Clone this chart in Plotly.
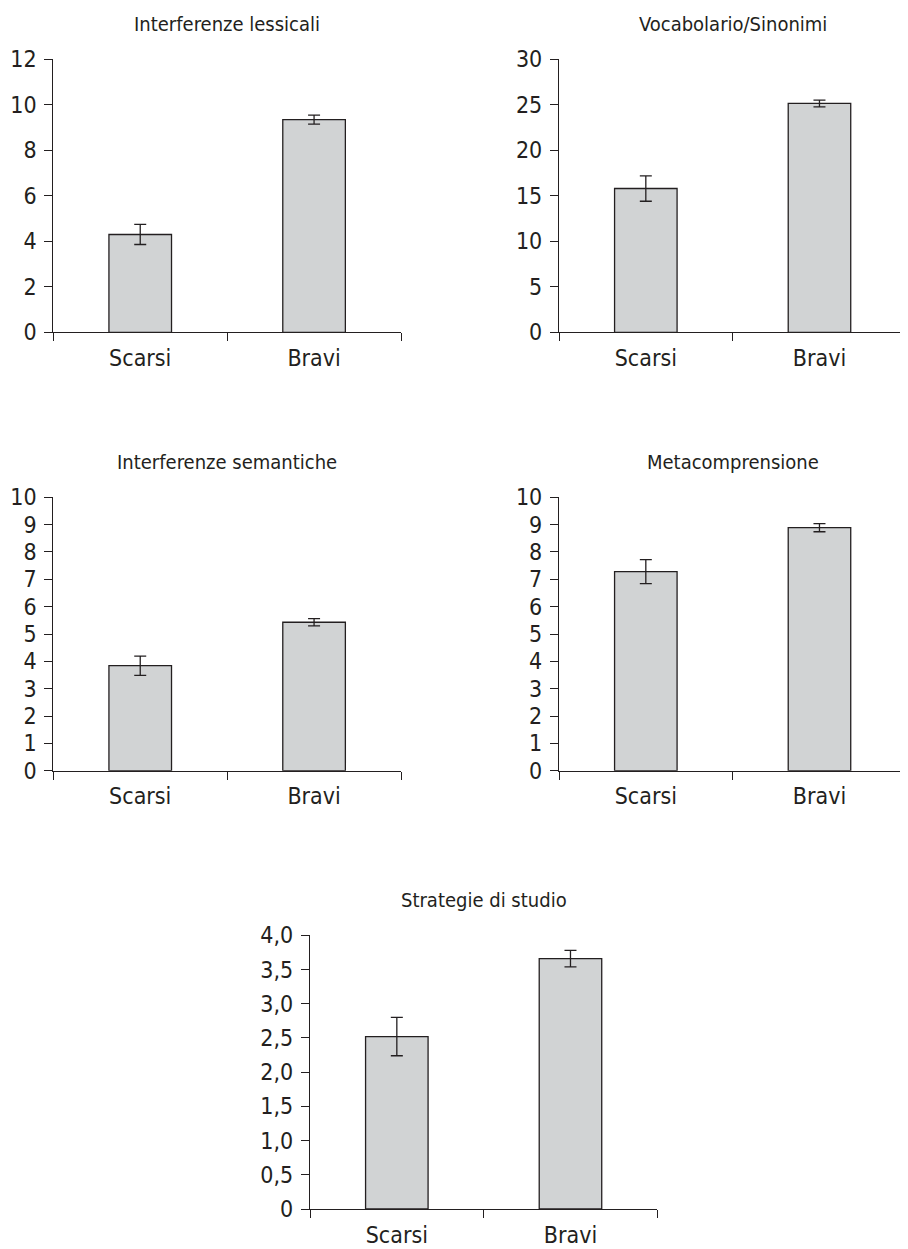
import plotly.graph_objects as go

categories = ["Scarsi", "Bravi"]

titles = ["Interferenze lessicali", "Vocabolario/Sinonimi", "Interferenze semantiche",
          "Metacomprensione", "Strategie di studio"]

lessicali = [4.30, 9.35]
lessicali_err = [0.44, 0.20]
vocabolario = [15.8, 25.15]
vocabolario_err = [1.40, 0.37]
semantiche = [3.84, 5.43]
semantiche_err = [0.35, 0.13]
metacomp = [7.28, 8.89]
metacomp_err = [0.44, 0.15]
strategie = [2.52, 3.66]
strategie_err = [0.28, 0.12]

ticks_lessicali = [0, 2, 4, 6, 8, 10, 12]
ticks_vocabolario = [0, 5, 10, 15, 20, 25, 30]
ticks_semantiche = [0, 1, 2, 3, 4, 5, 6, 7, 8, 9, 10]
ticks_metacomp = [0, 1, 2, 3, 4, 5, 6, 7, 8, 9, 10]
ticks_strategie = [0, 0.5, 1.0, 1.5, 2.0, 2.5, 3.0, 3.5, 4.0]
ticktext_strategie = ["0", "0,5", "1,0", "1,5", "2,0", "2,5", "3,0", "3,5", "4,0"]

# the page body has an 8px margin, so the figure is drawn 8px in from the window corner
OFF = 8
W, H = 908 - OFF, 1249 - OFF
FONT = "DejaVu Sans Condensed, sans-serif"
INK = "#231f20"
FILL = "#d1d3d4"

# pixel boxes in window coordinates: (x0, x1, ytop, ybottom)
boxes = [
    (53.3, 401.0, 59.3, 332.3),
    (559.0, 906.3, 59.3, 332.3),
    (53.3, 401.0, 497.3, 770.7),
    (559.0, 906.3, 497.3, 770.7),
    (310.0, 657.3, 935.3, 1209.0),
]

panels = [
    (lessicali, lessicali_err, ticks_lessicali, [str(t) for t in ticks_lessicali], 12),
    (vocabolario, vocabolario_err, ticks_vocabolario, [str(t) for t in ticks_vocabolario], 30),
    (semantiche, semantiche_err, ticks_semantiche, [str(t) for t in ticks_semantiche], 10),
    (metacomp, metacomp_err, ticks_metacomp, [str(t) for t in ticks_metacomp], 10),
    (strategie, strategie_err, ticks_strategie, ticktext_strategie, 4),
]

fig = go.Figure()
layout = dict(
    template="none",
    width=W, height=H,
    margin=dict(l=0, r=0, t=0, b=0, autoexpand=False),
    paper_bgcolor="white", plot_bgcolor="white",
    showlegend=False,
    font=dict(family=FONT, color=INK),
    annotations=[],
)

for i, ((vals, errs, tv, tt, ymax), box, title) in enumerate(zip(panels, boxes, titles)):
    x0, x1, yt, yb = [v - OFF for v in box]
    n = "" if i == 0 else str(i + 1)
    fig.add_trace(go.Bar(
        x=categories, y=vals,
        xaxis="x" + n, yaxis="y" + n,
        width=0.36,
        marker=dict(color=FILL, line=dict(color=INK, width=1.3)),
        error_y=dict(type="data", array=errs, visible=True, color=INK, thickness=1.3, width=6),
        hoverinfo="skip",
    ))
    layout["xaxis" + n] = dict(
        domain=[x0 / W, x1 / W], anchor="y" + n, automargin=False,
        type="category", tickson="boundaries",
        ticks="outside", ticklen=8, tickwidth=1.3, tickcolor=INK,
        showline=True, linecolor=INK, linewidth=1.3,
        showgrid=False, zeroline=False,
        tickfont=dict(family=FONT, size=23, color=INK),
        ticklabelstandoff=5,
        fixedrange=True,
    )
    layout["yaxis" + n] = dict(
        domain=[1 - yb / H, 1 - yt / H], anchor="x" + n, automargin=False,
        range=[0, ymax],
        tickvals=tv, ticktext=tt,
        ticks="outside", ticklen=8, tickwidth=1.3, tickcolor=INK,
        showline=True, linecolor=INK, linewidth=1.3,
        showgrid=False, zeroline=False,
        tickfont=dict(family=FONT, size=23, color=INK),
        ticklabelstandoff=3,
        fixedrange=True,
    )
    layout["annotations"].append(dict(
        text=title, xref="paper", yref="paper",
        x=((x0 + x1) / 2) / W, y=1 - (yt - 21) / H,
        xanchor="center", yanchor="bottom", showarrow=False,
        font=dict(family=FONT, size=20, color=INK),
    ))

fig.update_layout(**layout)
fig.write_html("out.html")
